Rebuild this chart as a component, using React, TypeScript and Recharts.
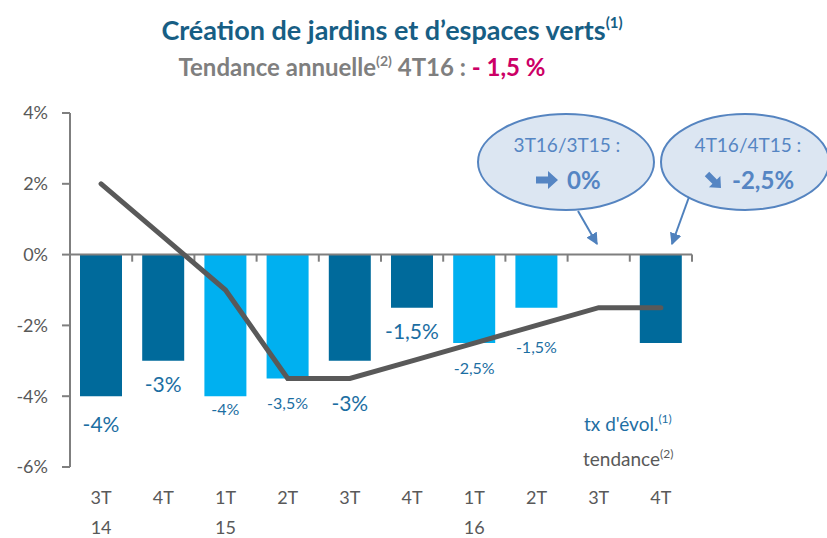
import React from "react"
import { ComposedChart, Bar, Line, XAxis, YAxis, Cell, LabelList, ReferenceLine } from "recharts"

// quarters and years shown under the x axis
const quarters = ["3T", "4T", "1T", "2T", "3T", "4T", "1T", "2T", "3T", "4T"]
const years = ["14", "", "15", "", "", "", "16", "", "", ""]

// taux d'évolution (bars) and tendance annuelle (line), in %
const evolution = [-4, -3, -4, -3.5, -3, -1.5, -2.5, -1.5, 0, -2.5]
const tendance = [2, 0.5, -1, -3.5, -3.5, -3, -2.5, -2, -1.5, -1.5]

const yTicks = [-6, -4, -2, 0, 2, 4]

// styling per bar
const barShade = ["dark", "dark", "light", "light", "dark", "dark", "light", "light", "dark", "dark"]
const labelDy: (number | null)[] = [36, 31, 19, 30, 50, 31, 31, 45, null, null]

const DARK = "#006A9B"
const LIGHT = "#00B0F0"
const AXIS = "#7F7F7F"
const FONT = "Lato, 'DejaVu Sans', sans-serif"

const data = quarters.map((q, i) => ({ idx: i, evolution: evolution[i], tendance: tendance[i] }))
const boundaries = data.map((d) => d.idx + 0.5)

const fmt = (v: number) => `${String(v).replace(".", ",")}%`

function CatTick(props: any) {
  const { x, y, payload } = props
  const i = payload.value
  return (
    <g>
      <text x={x} y={y + 37} textAnchor="middle" fill="#595959" fontSize={18} fontFamily={FONT}>
        {quarters[i]}
      </text>
      {years[i] && (
        <text x={x} y={y + 67} textAnchor="middle" fill="#595959" fontSize={18} fontFamily={FONT}>
          {years[i]}
        </text>
      )}
    </g>
  )
}

function BarLabel(props: any) {
  const { x, y, width, height, value, index } = props
  const dy = labelDy[index]
  if (dy == null) return null
  const bottom = Math.max(y, y + height)
  const big = barShade[index] === "dark"
  return (
    <text
      x={x + width / 2}
      y={bottom + dy}
      textAnchor="middle"
      fill="#1B6EA2"
      fontSize={big ? 21 : 16}
      fontFamily={FONT}
    >
      {fmt(value)}
    </text>
  )
}

// thick block arrow pointing right, centred on 0,0
const blockArrow = "M-11,-3.5 L1,-3.5 L1,-9 L11,0 L1,9 L1,3.5 L-11,3.5 Z"

export default function App() {
  return (
    <div style={{ position: "relative", width: 827, height: 538, background: "#fff" }}>
      <style>{"body{margin:0}"}</style>
      <ComposedChart width={827} height={538} data={data} margin={{ top: 113, right: 135, bottom: 0, left: 0 }}>
        <XAxis
          dataKey="idx"
          type="number"
          domain={[-0.5, 9.5]}
          ticks={data.map((d) => d.idx)}
          interval={0}
          axisLine={false}
          tickLine={false}
          tickSize={0}
          tickMargin={0}
          height={71}
          tick={<CatTick />}
        />
        <YAxis
          domain={[-6, 4]}
          ticks={yTicks}
          interval={0}
          width={70}
          tickSize={8}
          tickMargin={14}
          axisLine={{ stroke: AXIS, strokeWidth: 2 }}
          tickLine={{ stroke: AXIS, strokeWidth: 2 }}
          tick={{ fill: "#595959", fontSize: 18, fontFamily: FONT }}
          tickFormatter={(v: number) => `${v}%`}
        />
        <Bar dataKey="evolution" barSize={42} isAnimationActive={false}>
          {data.map((d, i) => (
            <Cell key={i} fill={barShade[i] === "dark" ? DARK : LIGHT} />
          ))}
          <LabelList dataKey="evolution" content={<BarLabel />} />
        </Bar>
        <ReferenceLine y={0} stroke={AXIS} strokeWidth={2} />
        {boundaries.map((b) => (
          <ReferenceLine
            key={b}
            segment={[
              { x: b, y: 0 },
              { x: b, y: -0.2 },
            ]}
            stroke={AXIS}
            strokeWidth={2}
          />
        ))}
        <Line
          dataKey="tendance"
          type="linear"
          stroke="#595959"
          strokeWidth={5}
          strokeLinecap="round"
          dot={false}
          activeDot={false}
          isAnimationActive={false}
        />
      </ComposedChart>

      <svg width={827} height={538} style={{ position: "absolute", left: 0, top: 0, pointerEvents: "none" }}>
        <defs>
          <marker id="ah" viewBox="0 0 10 10" refX="9" refY="5" markerWidth="6" markerHeight="6" orient="auto">
            <path d="M0,0 L10,5 L0,10 z" fill="#4F81BD" />
          </marker>
        </defs>

        <text x={392} y={40} textAnchor="middle" fill="#175E84" fontSize={27} fontWeight="bold" fontFamily={FONT}>
          Création de jardins et d’espaces verts
          <tspan fontSize={15} dy={-12}>(1)</tspan>
        </text>
        <text x={362} y={76} textAnchor="middle" fill="#7F7F7F" fontSize={24} fontWeight="bold" fontFamily={FONT}>
          Tendance annuelle
          <tspan fontSize={14} dy={-10}>(2)</tspan>
          <tspan dy={10}> 4T16 : </tspan>
          <tspan fill="#CC0066">- 1,5 %</tspan>
        </text>

        <ellipse cx={566} cy={162} rx={88} ry={48} fill="#DCE6F2" stroke="#5584C0" strokeWidth={2} />
        <ellipse cx={745} cy={162} rx={84} ry={48} fill="#DCE6F2" stroke="#5584C0" strokeWidth={2} />
        <text x={567} y={152} textAnchor="middle" fill="#5585C3" fontSize={19} fontFamily={FONT}>
          3T16/3T15 :
        </text>
        <path d={blockArrow} transform="translate(547,180)" fill="#5585C3" />
        <text x={567} y={189} fill="#5585C3" fontSize={24} fontWeight="bold" fontFamily={FONT}>
          0%
        </text>
        <text x={748} y={152} textAnchor="middle" fill="#5585C3" fontSize={19} fontFamily={FONT}>
          4T16/4T15 :
        </text>
        <path d={blockArrow} transform="translate(714,181) rotate(45) scale(0.9)" fill="#5585C3" />
        <text x={732} y={189} fill="#5585C3" fontSize={24} fontWeight="bold" fontFamily={FONT}>
          -2,5%
        </text>
        <line x1={578} y1={211} x2={597} y2={244} stroke="#4F81BD" strokeWidth={2} markerEnd="url(#ah)" />
        <line x1={689} y1={197} x2={672} y2={244} stroke="#4F81BD" strokeWidth={2} markerEnd="url(#ah)" />

        <text x={584} y={431} fill="#1F6FA3" fontSize={19} fontFamily={FONT}>
          tx d'évol.
          <tspan fontSize={12} dy={-8}>(1)</tspan>
        </text>
        <text x={583} y={466} fill="#595959" fontSize={19} fontFamily={FONT}>
          tendance
          <tspan fontSize={12} dy={-8}>(2)</tspan>
        </text>
      </svg>
    </div>
  )
}
